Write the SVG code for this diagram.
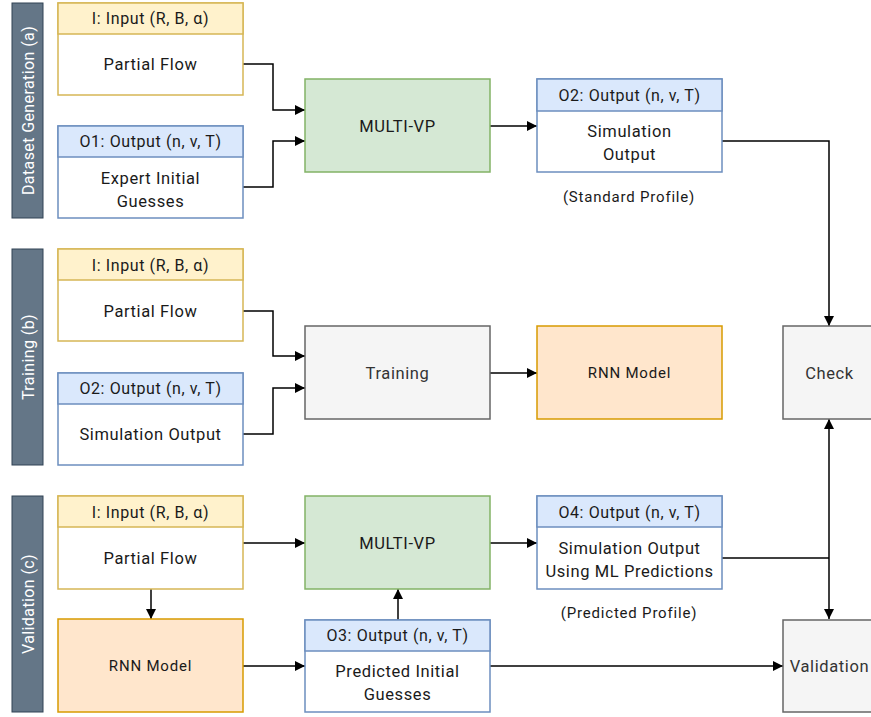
<svg xmlns="http://www.w3.org/2000/svg" width="871" height="717" viewBox="0 0 871 717">
<style>
text{font-family:Roboto,"Liberation Sans",sans-serif;text-anchor:middle;dominant-baseline:central;fill:#1a1a1a}
.t{font-size:16.5px;letter-spacing:0.6px}
.h{font-size:16px;letter-spacing:0.6px}
.s{font-size:15px;letter-spacing:0.8px}
.side{fill:#647687;stroke:#314354;stroke-width:1}
.sidet{fill:#ffffff;font-size:16px;letter-spacing:0.4px}
.yh{fill:#fff2cc;stroke:#d6b656;stroke-width:1.5}
.yb{fill:#ffffff;stroke:#d6b656;stroke-width:1.5}
.bh{fill:#dae8fc;stroke:#6c8ebf;stroke-width:1.5}
.bb{fill:#ffffff;stroke:#6c8ebf;stroke-width:1.5}
.g{fill:#d5e8d4;stroke:#82b366;stroke-width:1.5}
.o{fill:#ffe6cc;stroke:#d79b00;stroke-width:1.5}
.gr{fill:#f5f5f5;stroke:#666666;stroke-width:1.5}
.grt{fill:#333333}
.c{fill:none;stroke:#000;stroke-width:1.5}
</style>
<defs>
<marker id="ah" viewBox="0 0 10 10" refX="10" refY="5" markerWidth="10" markerHeight="10" markerUnits="userSpaceOnUse" orient="auto">
<path d="M0,0 L10,5 L0,10 Z" fill="#000"/>
</marker>
</defs>

<g id="lane-a"><rect class="side" x="12" y="3" width="31" height="215"/><text class="sidet" transform="translate(28,110.5) rotate(-90)">Dataset Generation (a)</text></g>
<g id="lane-b"><rect class="side" x="12" y="249" width="31" height="216"/><text class="sidet" transform="translate(28,357) rotate(-90)">Training (b)</text></g>
<g id="lane-c"><rect class="side" x="12" y="496" width="31" height="216"/><text class="sidet" transform="translate(28,604) rotate(-90)">Validation (c)</text></g>

<g id="connectors">
<path class="c" d="M243,64 H273 V110 H305" marker-end="url(#ah)"/>
<path class="c" d="M243,187 H273 V141 H305" marker-end="url(#ah)"/>
<path class="c" d="M490,126 H537" marker-end="url(#ah)"/>
<path class="c" d="M722,141 H829 V326" marker-end="url(#ah)"/>
<path class="c" d="M243,311 H273 V356 H305" marker-end="url(#ah)"/>
<path class="c" d="M243,434 H273 V388 H305" marker-end="url(#ah)"/>
<path class="c" d="M490,373 H537" marker-end="url(#ah)"/>
<path class="c" d="M243,543 H305" marker-end="url(#ah)"/>
<path class="c" d="M490,543 H537" marker-end="url(#ah)"/>
<path class="c" d="M151,589 V619" marker-end="url(#ah)"/>
<path class="c" d="M243,666 H305" marker-end="url(#ah)"/>
<path class="c" d="M398,620 V589" marker-end="url(#ah)"/>
<path class="c" d="M490,666 H783" marker-end="url(#ah)"/>
<path class="c" d="M722,558 H829"/>
<path class="c" d="M829,558 V419" marker-end="url(#ah)"/>
<path class="c" d="M829,558 V619" marker-end="url(#ah)"/>
</g>

<g id="input-a"><rect class="yb" x="58" y="3" width="185" height="92"/><rect class="yh" x="58" y="3" width="185" height="31"/><text class="h" x="150.5" y="18.5">I: Input (R, B, α)</text><text class="t" x="150.5" y="64">Partial Flow</text></g>
<g id="o1-a"><rect class="bb" x="58" y="126" width="185" height="92"/><rect class="bh" x="58" y="126" width="185" height="31"/><text class="h" x="150.5" y="141.5">O1: Output (n, v, T)</text><text class="t" x="150.5" y="178">Expert Initial</text><text class="t" x="150.5" y="201">Guesses</text></g>
<g id="multivp-a"><rect class="g" x="305" y="79" width="185" height="93"/><text class="t" x="397.5" y="126">MULTI-VP</text></g>
<g id="o2-a"><rect class="bb" x="537" y="79" width="185" height="93"/><rect class="bh" x="537" y="79" width="185" height="32"/><text class="h" x="629.5" y="95">O2: Output (n, v, T)</text><text class="t" x="629.5" y="131">Simulation</text><text class="t" x="629.5" y="154">Output</text></g>
<text class="s" x="629" y="197">(Standard Profile)</text>
<g id="check"><rect class="gr" x="783" y="326" width="93" height="93"/><text class="t grt" x="829.5" y="373">Check</text></g>

<g id="input-b"><rect class="yb" x="58" y="249" width="185" height="92"/><rect class="yh" x="58" y="249" width="185" height="31"/><text class="h" x="150.5" y="265">I: Input (R, B, α)</text><text class="t" x="150.5" y="311">Partial Flow</text></g>
<g id="o2-b"><rect class="bb" x="58" y="373" width="185" height="92"/><rect class="bh" x="58" y="373" width="185" height="31"/><text class="h" x="150.5" y="388.5">O2: Output (n, v, T)</text><text class="t" x="150.5" y="434">Simulation Output</text></g>
<g id="training"><rect class="gr" x="305" y="326" width="185" height="93"/><text class="t grt" x="397.5" y="373">Training</text></g>
<g id="rnn-b"><rect class="o" x="537" y="326" width="185" height="93"/><text class="s" x="629.5" y="373">RNN Model</text></g>

<g id="input-c"><rect class="yb" x="58" y="496" width="185" height="93"/><rect class="yh" x="58" y="496" width="185" height="31"/><text class="h" x="150.5" y="512">I: Input (R, B, α)</text><text class="t" x="150.5" y="558">Partial Flow</text></g>
<g id="rnn-c"><rect class="o" x="58" y="619" width="185" height="93"/><text class="s" x="150.5" y="666">RNN Model</text></g>
<g id="multivp-c"><rect class="g" x="305" y="496" width="185" height="93"/><text class="t" x="397.5" y="543">MULTI-VP</text></g>
<g id="o4-c"><rect class="bb" x="537" y="496" width="185" height="93"/><rect class="bh" x="537" y="496" width="185" height="31"/><text class="h" x="629.5" y="512">O4: Output (n, v, T)</text><text class="t" x="629.5" y="548">Simulation Output</text><text class="t" x="629.5" y="571">Using ML Predictions</text></g>
<text class="s" x="629" y="613">(Predicted Profile)</text>
<g id="o3-c"><rect class="bb" x="305" y="620" width="185" height="92"/><rect class="bh" x="305" y="620" width="185" height="31"/><text class="h" x="397.5" y="635.5">O3: Output (n, v, T)</text><text class="t" x="397.5" y="671">Predicted Initial</text><text class="t" x="397.5" y="694">Guesses</text></g>
<g id="validation"><rect class="gr" x="783" y="620" width="93" height="92"/><text class="t grt" x="829.5" y="666">Validation</text></g>
</svg>
